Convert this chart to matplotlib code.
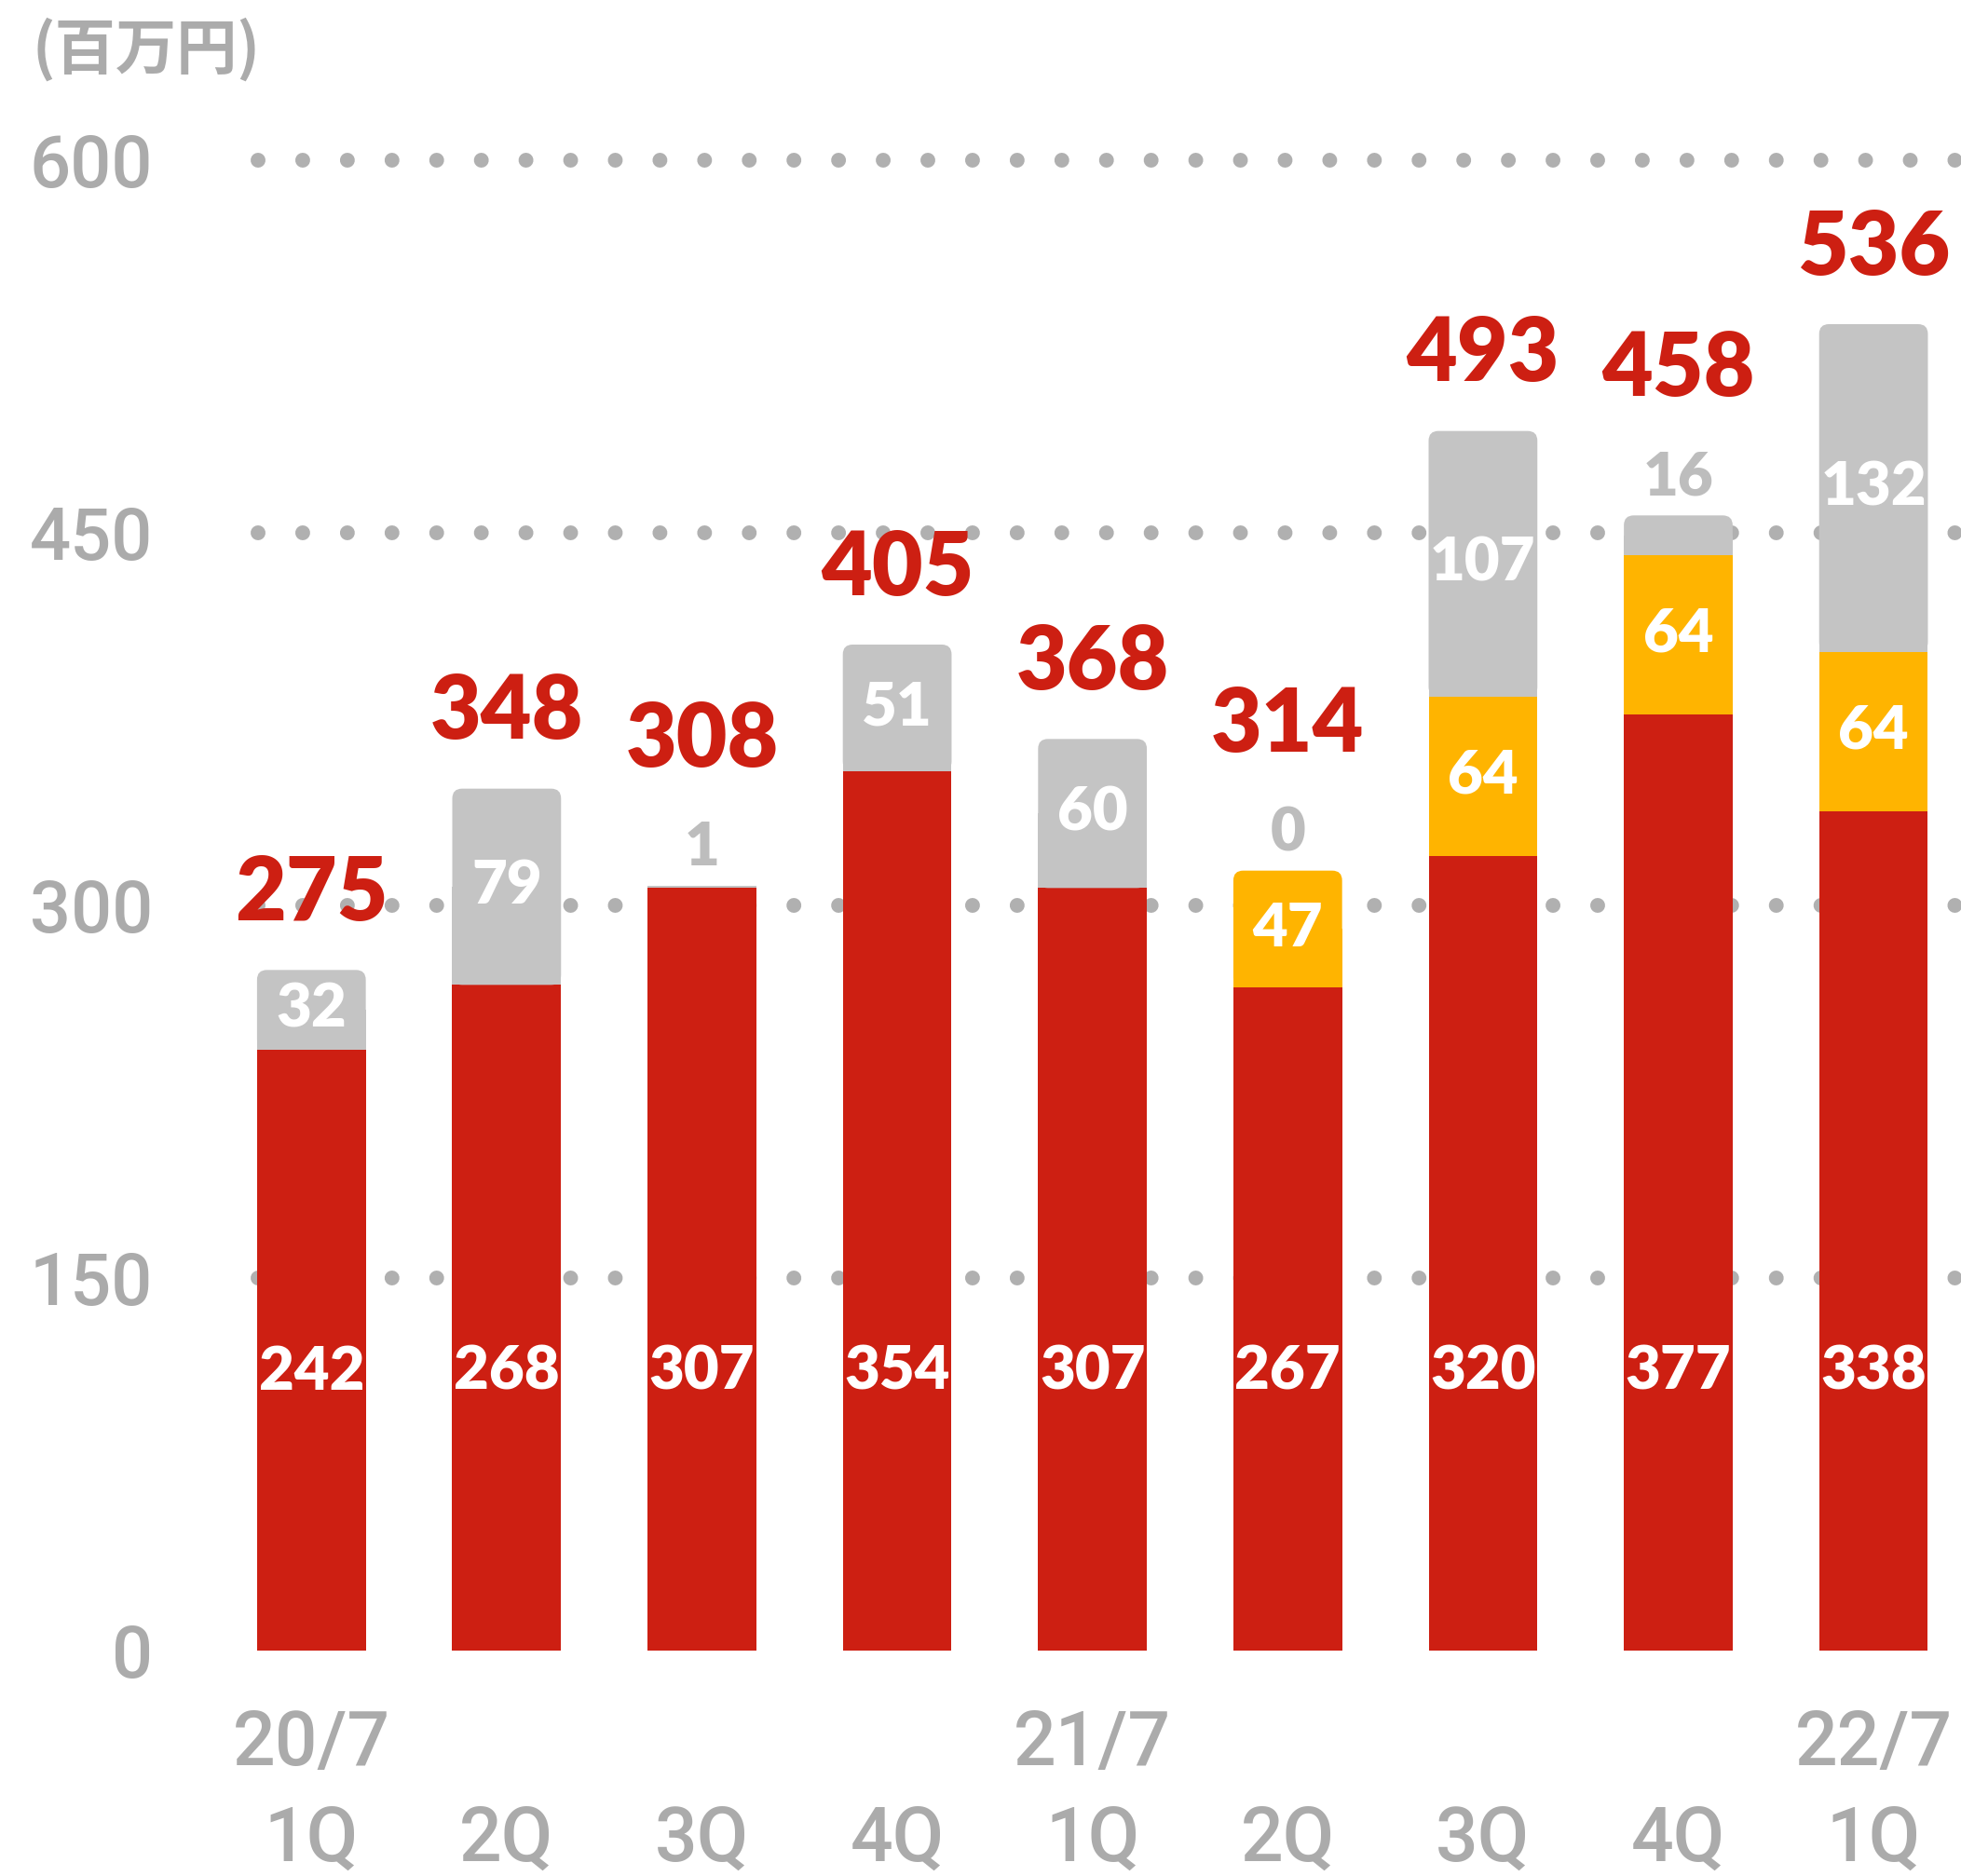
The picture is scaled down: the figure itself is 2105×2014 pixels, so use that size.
import matplotlib
matplotlib.use("Agg")
import matplotlib.pyplot as plt
from matplotlib.patches import FancyBboxPatch

# データ(百万円)
years = ["20/7", "", "", "", "21/7", "", "", "", "22/7"]
quarters = ["1Q", "2Q", "3Q", "4Q", "1Q", "2Q", "3Q", "4Q", "1Q"]
red_vals = [242, 268, 307, 354, 307, 267, 320, 377, 338]
yellow_vals = [0, 0, 0, 0, 0, 47, 64, 64, 64]
gray_vals = [32, 79, 1, 51, 60, 0, 107, 16, 132]
totals = [275, 348, 308, 405, 368, 314, 493, 458, 536]

RED = "#CD1F12"
YELLOW = "#FFB400"
GRAY_BAR = "#C4C4C4"
GRAY_TXT = "#ABABAB"
GRAY_SMALL = "#BDBDBD"
DOT = "#B0B0B0"

NUM_FONT = ["Lato", "DejaVu Sans"]
AXIS_FONT = ["Roboto", "DejaVu Sans"]

W, H = 2105, 2014
fig = plt.figure(figsize=(W / 100, H / 100), dpi=100)
ax_left, ax_bottom = 228, 1772
ax = fig.add_axes([ax_left / W, (H - ax_bottom) / H, 1 - ax_left / W, 1600 / H])

xlim = (-0.507, 8.448)
ax.set_xlim(*xlim)
ax.set_ylim(0, 600)
for s in ax.spines.values():
    s.set_visible(False)
ax.set_xticks([])
ax.set_yticks([0, 150, 300, 450, 600])
ax.set_yticklabels(["0", "150", "300", "450", "600"], family=AXIS_FONT,
                   fontsize=56, fontweight="medium", color=GRAY_TXT)
ax.tick_params(axis="y", length=0, pad=46)

# 点線グリッド
for yv in [150, 300, 450, 600]:
    ax.plot([-0.273, xlim[1] + 0.2], [yv, yv], color=DOT, lw=11.5,
            linestyle=(0, (0.001, 3.0)), dash_capstyle="round",
            zorder=1, clip_on=False)
ax.axhline(-1.2, color="#BBBBBB", lw=4.2, zorder=1)

width = 0.557
# y方向の角丸補正 (x単位/ y単位の画素比)
aspect = (209.6) / (1600 / 600)
radius = 0.05

x = list(range(len(red_vals)))
for i in x:
    segs = [(red_vals[i], RED), (yellow_vals[i], YELLOW), (gray_vals[i], GRAY_BAR)]
    top_idx = max(k for k, (v, _) in enumerate(segs) if v > 0)
    bottom = 0
    for k, (v, c) in enumerate(segs):
        if v <= 0:
            continue
        if k == top_idx and v > 10:
            ax.bar(i, v / 2, bottom=bottom, width=width, color=c, zorder=2)
            ax.add_patch(FancyBboxPatch((i - width / 2, bottom), width, v,
                                        boxstyle=f"round,pad=0,rounding_size={radius}",
                                        mutation_aspect=aspect, fc=c, ec="none",
                                        zorder=2))
        else:
            ax.bar(i, v, bottom=bottom, width=width, color=c, zorder=2)
        bottom += v

    lab = dict(family=NUM_FONT, fontweight="heavy", fontsize=47,
               ha="center", va="center", zorder=3)
    # 赤の値
    ax.text(i, 112, str(red_vals[i]), color="white", **lab)
    # 黄の値
    if yellow_vals[i] > 0:
        ax.text(i, red_vals[i] + yellow_vals[i] / 2, str(yellow_vals[i]),
                color="white", **lab)
    top = red_vals[i] + yellow_vals[i] + gray_vals[i]
    outside = yellow_vals[i] > 0 and gray_vals[i] < 30 or gray_vals[i] < 5
    if outside:
        ax.text(i, top + 8, str(gray_vals[i]), color=GRAY_SMALL,
                **{**lab, "va": "baseline"})
        total_y = top + 48
    else:
        if gray_vals[i] > 0:
            ax.text(i, red_vals[i] + yellow_vals[i] + gray_vals[i] / 2,
                    str(gray_vals[i]), color="white", **lab)
        total_y = top + 20
    ax.text(i, total_y, str(totals[i]), color=RED, family=NUM_FONT,
            fontweight="heavy", fontsize=68, ha="center", va="baseline",
            zorder=3, clip_on=False)

# 横軸ラベル
xt = ax.get_xaxis_transform()
for i in x:
    if years[i]:
        ax.text(i, -101 / 1600, years[i], transform=xt, ha="center", va="center",
                family=AXIS_FONT, fontsize=58, fontweight="medium", color=GRAY_TXT)
    ax.text(i, -204 / 1600, quarters[i], transform=xt, ha="center", va="center",
            family=AXIS_FONT, fontsize=58, fontweight="medium", color=GRAY_TXT)

fig.text(34 / W, 1 - 53 / H, "(百万円)", ha="left", va="center",
         family=["Noto Sans CJK JP", "DejaVu Sans"], fontweight="bold",
         fontsize=47, color=GRAY_TXT)

fig.savefig("out.png", dpi=100, facecolor="white")
